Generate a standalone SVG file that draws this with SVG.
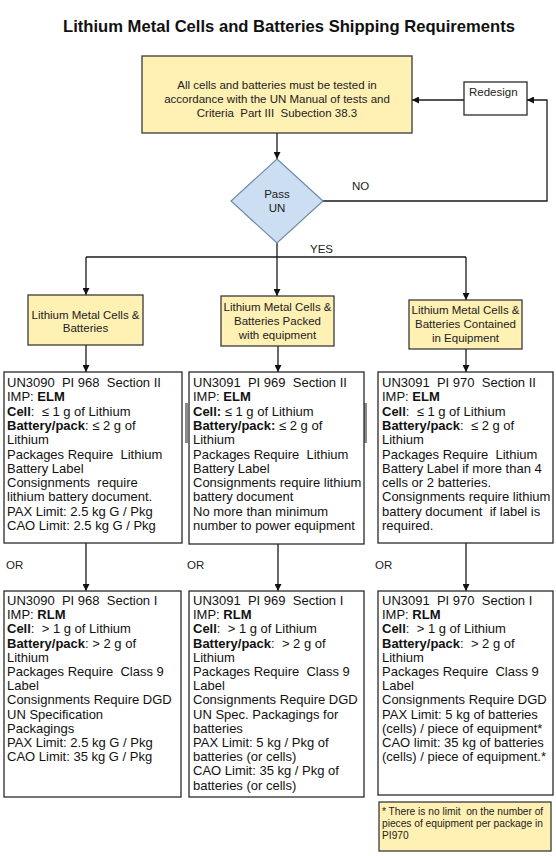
<svg xmlns="http://www.w3.org/2000/svg" width="556" height="856" viewBox="0 0 556 856">
<style>
.bg{fill:#ffffff}
.yel{fill:#FFF0B3;stroke:#3a3a3a;stroke-width:1.3}
.box{fill:#ffffff;stroke:#2a2a2a;stroke-width:1.3}
.dia{fill:#CCDFF2;stroke:#6E8CA8;stroke-width:1.2}
.con{fill:none;stroke:#1a1a1a;stroke-width:1.3}
.t{font-family:"Liberation Sans",Arial,sans-serif;font-size:13px;fill:#111;white-space:pre}
.s{font-family:"Liberation Sans",Arial,sans-serif;font-size:11.5px;fill:#222;text-anchor:middle;white-space:pre}
.f{font-family:"Liberation Sans",Arial,sans-serif;font-size:10.2px;fill:#222;white-space:pre}
.b{font-weight:bold}
.title{font-family:"Liberation Sans",Arial,sans-serif;font-size:16.6px;font-weight:bold;fill:#111;text-anchor:middle}
.lab{font-family:"Liberation Sans",Arial,sans-serif;font-size:11.5px;fill:#222}
</style>
<defs>
<marker id="ah" viewBox="0 0 10 10" refX="10" refY="5" markerWidth="8" markerHeight="7" orient="auto" markerUnits="userSpaceOnUse"><path d="M0,0 L10,5 L0,10 z" fill="#111"/></marker>
</defs>
<rect class="bg" x="0" y="0" width="556" height="856"/>
<text class="title" x="289" y="32">Lithium Metal Cells and Batteries Shipping Requirements</text>

<g id="connectors">
<path class="con" d="M277,133 V159" marker-end="url(#ah)"/>
<path class="con" d="M464,100 H412" marker-end="url(#ah)"/>
<path class="con" d="M323,201 H547 V100 H527" marker-end="url(#ah)"/>
<path class="con" d="M277,243 V296" marker-end="url(#ah)"/>
<path class="con" d="M86,257 H466"/>
<path class="con" d="M86,257 V295" marker-end="url(#ah)"/>
<path class="con" d="M466,257 V300" marker-end="url(#ah)"/>
<path class="con" d="M86,345 V372" marker-end="url(#ah)"/>
<path class="con" d="M278,346 V372" marker-end="url(#ah)"/>
<path class="con" d="M466,349 V372" marker-end="url(#ah)"/>
<path class="con" d="M86,543 V591" marker-end="url(#ah)"/>
<path class="con" d="M278,544 V591" marker-end="url(#ah)"/>
<path class="con" d="M466,543 V591" marker-end="url(#ah)"/>
<text class="lab" x="352" y="190">NO</text>
<text class="lab" x="310" y="253">YES</text>
<text class="lab" x="6" y="569">OR</text>
<text class="lab" x="187" y="569">OR</text>
<text class="lab" x="375" y="569">OR</text>
</g>

<g id="test">
<rect class="yel" x="142" y="56" width="270" height="77"/>
<text class="s" x="277" y="89">All cells and batteries must be tested in</text>
<text class="s" x="277" y="103">accordance with the UN Manual of tests and</text>
<text class="s" x="277" y="117">Criteria  Part III  Subection 38.3</text>
</g>

<g id="redesign">
<rect class="box" x="464" y="82" width="63" height="33"/>
<text class="lab" x="469" y="96">Redesign</text>
</g>

<g id="pass">
<polygon class="dia" points="277,159 323,201 277,243 231,201"/>
<text class="s" x="277" y="198">Pass</text>
<text class="s" x="277" y="212">UN</text>
</g>

<g id="cat1">
<rect class="yel" x="28" y="295" width="115" height="50"/>
<text class="s" x="85.5" y="319">Lithium Metal Cells &amp;</text>
<text class="s" x="85.5" y="332">Batteries</text>
</g>
<g id="cat2">
<rect class="yel" x="221" y="296" width="113" height="50"/>
<text class="s" x="277.5" y="311">Lithium Metal Cells &amp;</text>
<text class="s" x="277.5" y="325">Batteries Packed</text>
<text class="s" x="277.5" y="339">with equipment</text>
</g>
<g id="cat3">
<rect class="yel" x="409" y="300" width="113" height="49"/>
<text class="s" x="465.5" y="314">Lithium Metal Cells &amp;</text>
<text class="s" x="465.5" y="328">Batteries Contained</text>
<text class="s" x="465.5" y="342">in Equipment</text>
</g>

<g id="pi968-ii">
<rect class="box" x="4" y="372" width="178" height="171"/>
<text class="t" x="7" y="387">UN3090  PI 968  Section II</text>
<text class="t" x="7" y="401.3">IMP: <tspan class="b">ELM</tspan></text>
<text class="t" x="7" y="415.6"><tspan class="b">Cell</tspan>:  ≤ 1 g of Lithium</text>
<text class="t" x="7" y="429.9"><tspan class="b">Battery/pack</tspan>: ≤ 2 g of</text>
<text class="t" x="7" y="444.2">Lithium</text>
<text class="t" x="7" y="458.5">Packages Require  Lithium</text>
<text class="t" x="7" y="472.8">Battery Label</text>
<text class="t" x="7" y="487.1">Consignments  require</text>
<text class="t" x="7" y="501.4">lithium battery document.</text>
<text class="t" x="7" y="515.7">PAX Limit: 2.5 kg G / Pkg</text>
<text class="t" x="7" y="530">CAO Limit: 2.5 kg G / Pkg</text>
</g>

<g id="pi969-ii">
<rect x="185" y="403" width="3" height="40" fill="#8a8a8a"/>
<rect x="364" y="403" width="3" height="40" fill="#8a8a8a"/>
<rect class="box" x="189" y="372" width="175" height="172"/>
<text class="t" x="193" y="387">UN3091  PI 969  Section II</text>
<text class="t" x="193" y="401.3">IMP: <tspan class="b">ELM</tspan></text>
<text class="t" x="193" y="415.6"><tspan class="b">Cell:</tspan> ≤ 1 g of Lithium</text>
<text class="t" x="193" y="429.9"><tspan class="b">Battery/pack:</tspan> ≤ 2 g of</text>
<text class="t" x="193" y="444.2">Lithium</text>
<text class="t" x="193" y="458.5">Packages Require  Lithium</text>
<text class="t" x="193" y="472.8">Battery Label</text>
<text class="t" x="193" y="487.1">Consignments require lithium</text>
<text class="t" x="193" y="501.4">battery document</text>
<text class="t" x="193" y="515.7">No more than minimum</text>
<text class="t" x="193" y="530">number to power equipment</text>
</g>

<g id="pi970-ii">
<rect class="box" x="378" y="372" width="175" height="171"/>
<text class="t" x="382" y="387">UN3091  PI 970  Section II</text>
<text class="t" x="382" y="401.3">IMP: <tspan class="b">ELM</tspan></text>
<text class="t" x="382" y="415.6"><tspan class="b">Cell</tspan>:  ≤ 1 g of Lithium</text>
<text class="t" x="382" y="429.9"><tspan class="b">Battery/pack</tspan>:  ≤ 2 g of</text>
<text class="t" x="382" y="444.2">Lithium</text>
<text class="t" x="382" y="458.5">Packages Require  Lithium</text>
<text class="t" x="382" y="472.8">Battery Label if more than 4</text>
<text class="t" x="382" y="487.1">cells or 2 batteries.</text>
<text class="t" x="382" y="501.4">Consignments require lithium</text>
<text class="t" x="382" y="515.7">battery document  if label is</text>
<text class="t" x="382" y="530">required.</text>
</g>

<g id="pi968-i">
<rect class="box" x="4" y="591" width="177" height="206"/>
<text class="t" x="7" y="605">UN3090  PI 968  Section I</text>
<text class="t" x="7" y="619.2">IMP: <tspan class="b">RLM</tspan></text>
<text class="t" x="7" y="633.4"><tspan class="b">Cell</tspan>:  &gt; 1 g of Lithium</text>
<text class="t" x="7" y="647.6"><tspan class="b">Battery/pack</tspan>: &gt; 2 g of</text>
<text class="t" x="7" y="661.8">Lithium</text>
<text class="t" x="7" y="676">Packages Require  Class 9</text>
<text class="t" x="7" y="690.2">Label</text>
<text class="t" x="7" y="704.4">Consignments Require DGD</text>
<text class="t" x="7" y="718.6">UN Specification</text>
<text class="t" x="7" y="732.8">Packagings</text>
<text class="t" x="7" y="747">PAX Limit: 2.5 kg G / Pkg</text>
<text class="t" x="7" y="761.2">CAO Limit: 35 kg G / Pkg</text>
</g>

<g id="pi969-i">
<rect class="box" x="189" y="591" width="175" height="206"/>
<text class="t" x="193" y="605">UN3091  PI 969  Section I</text>
<text class="t" x="193" y="619.2">IMP: <tspan class="b">RLM</tspan></text>
<text class="t" x="193" y="633.4"><tspan class="b">Cell</tspan>:  &gt; 1 g of Lithium</text>
<text class="t" x="193" y="647.6"><tspan class="b">Battery/pack</tspan>:  &gt; 2 g of</text>
<text class="t" x="193" y="661.8">Lithium</text>
<text class="t" x="193" y="676">Packages Require  Class 9</text>
<text class="t" x="193" y="690.2">Label</text>
<text class="t" x="193" y="704.4">Consignments Require DGD</text>
<text class="t" x="193" y="718.6">UN Spec. Packagings for</text>
<text class="t" x="193" y="732.8">batteries</text>
<text class="t" x="193" y="747">PAX Limit: 5 kg / Pkg of</text>
<text class="t" x="193" y="761.2">batteries (or cells)</text>
<text class="t" x="193" y="775.4">CAO Limit: 35 kg / Pkg of</text>
<text class="t" x="193" y="789.6">batteries (or cells)</text>
</g>

<g id="pi970-i">
<rect class="box" x="378" y="591" width="175" height="204"/>
<text class="t" x="382" y="605">UN3091  PI 970  Section I</text>
<text class="t" x="382" y="619.2">IMP: <tspan class="b">RLM</tspan></text>
<text class="t" x="382" y="633.4"><tspan class="b">Cell</tspan>:  &gt; 1 g of Lithium</text>
<text class="t" x="382" y="647.6"><tspan class="b">Battery/pack</tspan>:  &gt; 2 g of</text>
<text class="t" x="382" y="661.8">Lithium</text>
<text class="t" x="382" y="676">Packages Require  Class 9</text>
<text class="t" x="382" y="690.2">Label</text>
<text class="t" x="382" y="704.4">Consignments Require DGD</text>
<text class="t" x="382" y="718.6">PAX Limit: 5 kg of batteries</text>
<text class="t" x="382" y="732.8">(cells) / piece of equipment*</text>
<text class="t" x="382" y="747">CAO limit: 35 kg of batteries</text>
<text class="t" x="382" y="761.2">(cells) / piece of equipment.*</text>
</g>

<g id="footnote">
<rect class="yel" x="379" y="802" width="172" height="49"/>
<text class="f" x="382" y="815">* There is no limit  on the number of</text>
<text class="f" x="382" y="827">pieces of equipment per package in</text>
<text class="f" x="382" y="839">PI970</text>
</g>
</svg>
